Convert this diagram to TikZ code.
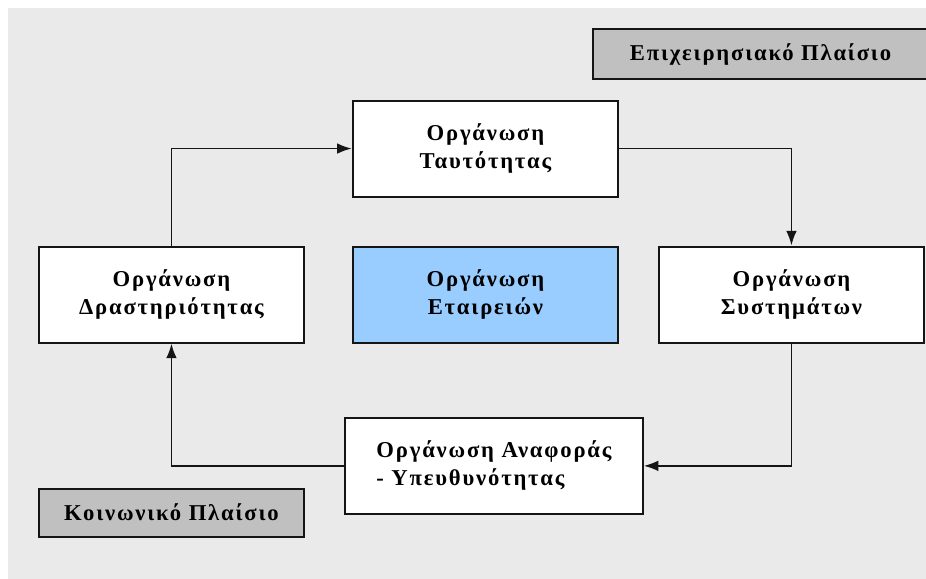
\documentclass[tikz,border=0pt]{standalone}
\usepackage{fontspec}
\setmainfont[LetterSpace=8]{Liberation Serif}
\usetikzlibrary{arrows.meta,positioning}
\definecolor{PageColor}{HTML}{EAEAEA}
\definecolor{FrameColor}{HTML}{C0C0C0}
\definecolor{CoreColor}{HTML}{99CCFF}
\definecolor{EdgeColor}{HTML}{151515}
\tikzset{
    box/.style={rectangle, draw=EdgeColor, line width=1.5pt, minimum width=199pt, minimum height=72pt, text centered, font=\bfseries\fontsize{17}{21}\selectfont},
    unit/.style={box, fill=white, align=center},
    core/.style={box, fill=CoreColor, align=center},
    frame/.style={box, fill=FrameColor, minimum height=36pt},
    connection/.style={-{Latex[length=11pt,width=8pt]}, line width=1.4pt, EdgeColor}
}
\begin{document}
\begin{tikzpicture}[node distance=36pt and 35pt]

% Page
\useasboundingbox (0,0) rectangle (694.5pt,-434.25pt);
\fill[white] (0,0) rectangle (694.5pt,-434.25pt);
\fill[PageColor] (6pt,-6pt) rectangle (694.5pt,-434.25pt);

% Centre
\node (core) [core] at (364.1pt,-220.9pt) {Οργάνωση\\Εταιρειών};

% Cycle
\node (identity) [unit, above=36pt of core] {Οργάνωση\\Ταυτότητας};
\node (activity) [unit, left=35pt of core] {Οργάνωση\\Δραστηριότητας};
\node (systems) [unit, right=29pt of core] {Οργάνωση\\Συστημάτων};
\node (report) [unit, below=55pt of core, xshift=6.4pt, minimum width=223pt, align=left] {Οργάνωση Αναφοράς\\- Υπευθυνότητας};

% Frames
\node (social) [frame, below=108pt of activity] {Κοινωνικό Πλαίσιο};
\node (business) [frame, minimum width=251pt, minimum height=37.5pt] at (570.4pt,-40.5pt) {Επιχειρησιακό Πλαίσιο};

% Connections
\draw [connection] (activity) |- (identity);
\draw [connection] (identity) -| (systems);
\draw [connection] (systems) |- (report);
\draw [connection] (report) -| (activity);

\end{tikzpicture}
\end{document}
